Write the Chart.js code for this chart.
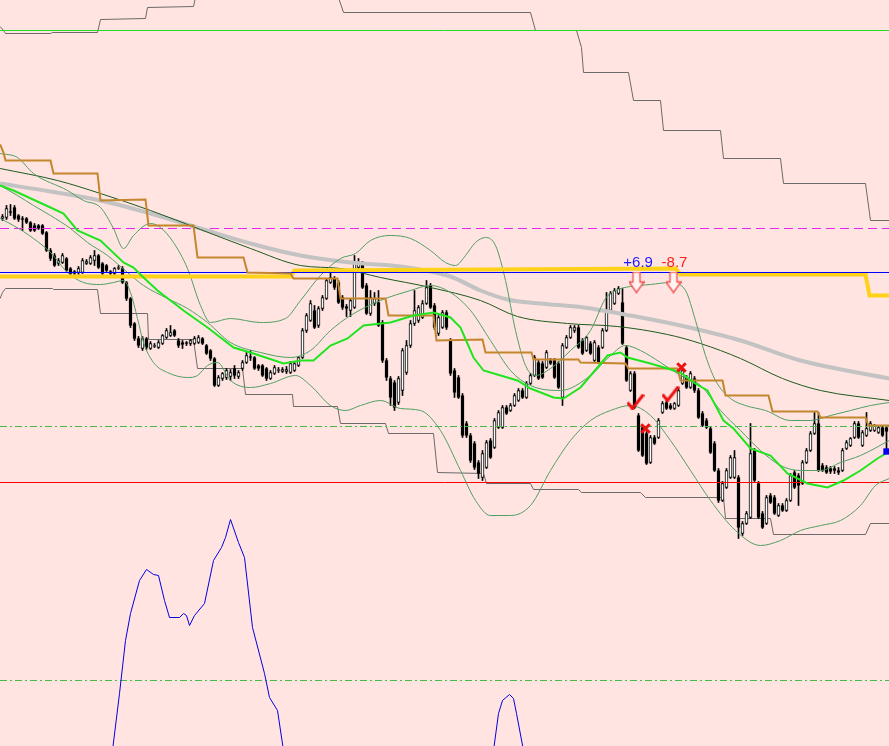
<!DOCTYPE html>
<html>
<head>
<meta charset="utf-8">
<title>Chart</title>
<style>
  html, body { margin: 0; padding: 0; background: #FFE4E1; overflow: hidden; }
  #wrap { width: 889px; height: 746px; }
  canvas { display: block; background: #FFE4E1; }
</style>
<script src="https://cdn.jsdelivr.net/npm/chart.js@4.4.0/dist/chart.umd.min.js"></script>
</head>
<body>
<div id="wrap"><canvas id="chart" width="889" height="746"></canvas></div>
<script>
// candles, one per bar (price axis runs top -> bottom)
const opens = [218,217,211,207,215,218,218,222,225,225,225,232,250,255,263,262,258,268,271,272,
  272,263,263,260,255,263,265,271,273,268,268,282,298,323,338,348,338,348,346,347,
  343,337,335,330,340,342,342,343,343,342,338,345,350,358,385,378,377,376,368,376,
  368,362,356,357,365,365,368,378,373,370,371,371,372,370,365,357,330,320,310,325,
  308,298,282,278,282,297,306,310,307,267,263,285,313,303,302,322,360,378,382,402,
  390,372,345,323,320,317,303,285,305,333,327,312,340,370,377,395,423,435,443,462,
  477,467,440,447,427,427,407,410,405,400,390,397,383,375,362,363,367,360,360,363,
  397,347,337,330,327,340,350,343,360,347,347,330,310,303,293,302,347,390,373,415,
  427,433,462,437,437,412,402,405,408,405,383,377,387,378,390,413,420,428,443,470,
  500,487,477,477,477,533,523,517,450,483,513,523,495,497,515,505,510,500,472,475,
  483,462,450,433,423,465,467,468,468,470,470,448,445,437,423,445,435,430,430,432,
  427,427];
const highs = [214,205,204,205,214,216,217,221,223,224,224,231,248,253,258,253,257,267,270,266,
  258,259,255,250,254,262,264,270,267,265,266,281,297,322,336,336,337,341,343,340,
  334,328,325,329,338,340,341,339,336,335,337,344,349,357,375,372,368,369,365,370,
  360,352,350,356,364,364,367,370,365,367,367,366,361,362,356,328,313,300,305,306,
  295,278,272,276,280,295,304,298,255,258,261,283,290,292,290,320,358,376,380,376,
  348,340,320,290,305,300,280,283,303,315,310,310,338,368,375,393,421,433,441,460,
  450,440,438,418,410,405,405,403,393,388,388,381,373,355,360,361,350,358,358,361,
  343,335,325,325,325,338,336,341,340,345,328,292,291,288,286,288,345,371,371,413,
  425,431,435,435,418,401,400,403,402,388,368,375,371,376,388,411,418,426,441,468,
  481,468,455,450,475,521,511,423,448,481,511,495,493,495,503,503,498,473,470,473,
  460,448,431,412,412,463,465,466,466,467,448,440,437,421,421,430,412,421,424,426,
  425,425];
const lows = [220,219,215,219,221,230,223,231,231,229,234,251,260,266,265,263,271,275,274,274,
  273,264,264,265,268,274,271,274,274,269,283,300,327,340,347,350,349,349,347,348,
  344,338,336,336,347,348,345,345,344,343,344,354,360,386,386,380,379,380,378,378,
  370,363,360,369,370,376,380,379,374,372,372,373,373,371,366,358,332,321,328,327,
  310,299,283,289,303,309,316,316,308,269,288,314,315,305,326,362,380,405,410,404,
  395,374,347,325,322,318,304,308,329,335,328,329,375,397,398,437,437,462,469,478,
  480,468,458,448,428,428,414,411,406,401,398,398,384,376,379,378,368,364,378,388,
  405,348,338,332,348,354,351,354,361,363,348,331,311,304,294,344,381,391,408,451,
  456,464,463,444,438,413,409,409,409,406,384,388,388,392,418,426,428,453,471,502,
  501,488,478,478,538,535,524,518,481,518,528,524,503,514,516,511,511,501,488,505,
  484,463,451,434,471,471,473,473,473,474,471,449,446,438,438,446,436,431,431,433,
  436,450];
const closes = [216,208,212,218,219,219,222,230,230,228,233,250,258,265,260,255,270,273,273,268,
  260,261,257,255,267,273,270,273,268,267,282,298,325,338,345,338,347,343,345,342,
  335,330,332,335,345,344,343,340,338,337,343,353,358,385,377,373,370,372,375,372,
  362,355,357,368,368,375,378,372,367,369,369,369,363,363,357,330,315,303,327,308,
  297,280,277,287,302,307,308,300,262,263,287,313,297,298,325,360,377,397,407,378,
  350,345,323,310,307,303,287,307,327,317,312,327,373,392,397,435,435,460,467,473,
  453,442,457,420,412,407,413,405,395,390,397,383,375,357,378,377,352,363,377,387,
  345,337,327,327,347,353,337,353,342,362,330,310,293,290,288,343,380,373,407,450,
  455,463,437,443,420,403,408,408,403,390,370,387,373,390,417,425,427,452,470,500,
  483,470,457,457,527,523,513,453,480,517,527,497,502,513,505,510,500,475,487,485,
  462,450,433,423,470,470,472,471,470,472,450,442,438,423,437,432,428,423,425,427,
  435,431];

// indicator lines as [bar, price] vertices
const slowMA = [[-0.6,183],[12,191],[24.5,200],[37,213],[49.5,228],[62,243],[74.5,255],[87,262],
  [99.5,266],[112,276],[119.5,290],[126.25,299],[134.5,303],[145.25,307],[157,315],[169.5,325],
  [184.5,340],[199.5,360],[221.7,378]];
const trendMA = [[-0.6,168],[13.75,180],[24.5,193],[37,210],[49.5,229],[62,248],[74.5,265],[84.5,268],
  [94.5,277],[107,287],[119.5,300],[128.75,316],[141.25,323],[153.75,326],[166.25,334],[174.5,343],
  [184.5,358],[195,378],[204.5,390],[221.7,400]];
const fastMA = [[-0.6,185],[2.75,190],[12,207],[15.25,213],[18.75,230],[24.5,240],[30.25,262],[32.75,267],
  [35.25,277],[38.75,290],[45.25,310],[51.25,327],[57.75,347],[62.75,353],[70.25,363],[74.5,360],
  [77.75,360],[82,345],[86.25,338],[90.25,325],[97,322],[102.75,315],[107.75,312],[112,317],
  [114.5,327],[117.75,357],[120.25,370],[128.75,380],[132,388],[137.75,397],[140.25,398],[144.5,387],
  [148.75,367],[151.25,355],[154.5,352],[156.25,357],[162,363],[169.5,372],[172.75,382],[176.25,390],
  [180.25,420],[182.75,428],[187,448],[192,455],[196.25,473],[201.25,483],[206.25,487],[210.25,480],
  [214.5,470],[218.75,458],[221.25,452],[221.7,451]];
const bandUp = [[-0.6,153],[3.75,157],[7.75,173],[16.25,190],[20.25,200],[24.5,207],[27.75,228],[30.25,248],
  [32.75,235],[37,223],[39.5,227],[42.75,242],[46.25,268],[49.5,305],[52,322],[57,318],[64.5,322],
  [70.75,318],[74.5,300],[79.5,275],[84.5,258],[88.25,253],[92,240],[97,235],[102,238],[107,250],
  [110.75,262],[113.25,265],[115.75,255],[118.25,242],[120.75,237],[123.25,245],[125.75,280],[128.25,330],
  [130.75,365],[133.25,375],[137,368],[142,350],[147,330],[150.75,298],[153.25,290],[157,286],
  [162,284],[167,282],[170.75,290],[173.25,320],[175.75,355],[178.25,380],[182,398],[185.75,405],
  [190.75,410],[197,420],[202,420],[207,415],[212,410],[217,405],[221.7,402]];
const bandMid = [[-0.6,185],[3.75,195],[7.75,205],[12,215],[17,228],[21.25,242],[26.25,255],[31.25,272],
  [35.25,285],[41.25,298],[46.25,308],[51.25,322],[57,342],[64.5,352],[72,357],[77,350],[82,330],
  [87,315],[94.5,300],[102,290],[107,285],[112,292],[117,310],[122,340],[127,370],[132,385],
  [139.5,390],[147,375],[152,355],[155.75,345],[159.5,350],[164.5,362],[169.5,375],[174.5,385],
  [179.5,410],[184.5,430],[189.5,450],[194.5,465],[199.5,470],[204.5,470],[209.5,462],[214.5,455],
  [221.7,440]];
const bandLow = [[-0.6,218],[2.75,225],[7.75,238],[12,252],[16.25,272],[20.25,282],[24.5,284],[27.75,282],
  [30.25,280],[32,292],[33.75,318],[35.25,342],[37.75,362],[41.25,372],[46.25,377],[48.75,375],
  [51.25,365],[53.75,362],[57,380],[62,387],[67,383],[73.25,375],[77,385],[82,405],[85.75,410],
  [89.5,405],[94.5,400],[99.5,408],[104.5,410],[109.5,430],[114.5,470],[118.25,500],[122,515],
  [127,515],[132,505],[137,470],[142,440],[147,420],[152,410],[157,405],[162,415],[167,440],
  [172,470],[177,500],[183.25,530],[189.5,545],[194.5,540],[199.5,530],[204.5,525],[209.5,520],
  [214.5,505],[218.25,485],[221.7,478]];
const stepMid = [[-0.6,144],[0.25,152],[0.75,160],[12,160],[12.75,173],[23.75,173],[24.5,200],[35.75,199],
  [36.5,225],[47.75,225],[48.75,257],[60.25,257],[61.25,272],[72,273],[72.75,278],[83.75,278],
  [84.5,298],[95.75,298],[96.5,315],[107.75,315],[108.5,340],[120,339],[120.75,352],[132.25,352],
  [132.75,359],[144,359],[144.5,362],[155.75,363],[156.5,368],[168.75,368],[169.5,380],[180,380],
  [180.75,395],[191.5,395],[192.5,411],[203.75,411],[204.5,417],[215.75,417],[216.5,425],[221.7,425]];
const stepHighA = [[-0.6,26],[0.25,30],[0.75,33],[12,33],[12.5,32],[23.75,32],[24.5,19],[35.75,18],
  [36.25,7],[47.75,6],[48.25,-3]];
const stepHighB = [[84,-3],[85.25,12],[132,12],[133.25,30],[143.5,30],[144.75,47],[145.25,72],[156.5,72],
  [157.75,100],[164.5,100],[165.25,130],[179.5,130],[180.25,158],[194.5,158],[195.25,183],[215.75,183],
  [217,220],[221.7,220]];
const stepLow = [[-0.6,298],[0,292],[0.75,288],[12.5,288],[12.75,289],[23.75,289],[24.5,313],[36.25,313],
  [36.5,339],[47.75,339],[48.75,368],[60,368],[60.75,394],[72.5,394],[72.75,406],[83.75,406],
  [84.5,423],[95.75,423],[96.5,433],[107.75,433],[108.75,472],[120.25,473],[121,483],[132,483],
  [132.75,489],[144,489],[144.75,492],[159.5,492],[160.75,497],[180.25,497],[180.75,518],[192,518],
  [192.75,534],[215.75,534],[217,523],[221.7,523]];
const goldLine = [[-0.6,276],[72,276],[73,270],[168.25,268],[169.5,274],[215.75,274],[216.75,295],[221.7,295]];
const oscA = [[27.5,750],[29.25,693],[30.75,640],[32,613],[34.25,580],[36,569],[37.75,574],[39,575],
  [40.5,600],[41.75,617],[44.25,617],[45.25,613],[46,615],[46.75,625],[48,615],[50.5,603],
  [52.75,560],[54.75,547],[55.75,537],[57,519],[59,542],[60.5,557],[62.5,627],[65.5,673],
  [66.75,697],[68.75,710],[70.25,750]];
const oscB = [[122.75,750],[124,713],[125,700],[126.75,694],[127.75,698],[128.5,713],[130.25,750]];

// horizontal levels
const levelTop = 30;
const levelMagenta = 228;
const levelBlue = 272;
const levelDashDot = [426, 680];
const levelRed = 482;

// signal marks
const arrowMarks = [[158.5,282],[167.75,282]];
const checkMarks = [[158.25,401],[167,393]];
const crossMarks = [[169.75,367],[160.75,428]];
const priceMark = [[221,451]];
const tradeLabels = [
  { x: 158.9, y: 262, text: "+6.9", color: "#1a1aff" },
  { x: 168, y: 262, text: "-8.7", color: "#ff2020" }
];

// one bar every 4 px; half-pixel offsets keep 1px lines crisp
const X_MIN = -0.625, X_MAX = 221.625;
const Y_MIN = -0.5, Y_MAX = 745.5;

function pts(list) {
  return list.map(p => ({ x: p[0], y: p[1] }));
}
function level(v) {
  return [{ x: X_MIN, y: v }, { x: X_MAX, y: v }];
}
function line(data, color, width, order, extra) {
  return Object.assign({
    type: "line", data: pts(data), borderColor: color, borderWidth: width,
    pointRadius: 0, tension: 0, fill: false, order: order
  }, extra || {});
}

// small canvases used as point styles
function makeArrow() {
  const c = document.createElement("canvas");
  c.width = 16; c.height = 22;
  const g = c.getContext("2d");
  g.beginPath();
  g.moveTo(4.5, 0.5); g.lineTo(11.5, 0.5); g.lineTo(11.5, 10.5); g.lineTo(15.5, 10.5);
  g.lineTo(8, 21); g.lineTo(0.5, 10.5); g.lineTo(4.5, 10.5); g.closePath();
  g.fillStyle = "#fff4f2"; g.fill();
  g.strokeStyle = "#f04a4a"; g.lineWidth = 1.3; g.stroke();
  return c;
}
function makeCheck() {
  const c = document.createElement("canvas");
  c.width = 18; c.height = 16;
  const g = c.getContext("2d");
  g.beginPath();
  g.moveTo(1, 9); g.lineTo(6, 15); g.lineTo(17, 1);
  g.strokeStyle = "#ee1111"; g.lineWidth = 3; g.lineJoin = "miter"; g.stroke();
  return c;
}

const candleBodies = opens.map((o, i) => ({ x: i, y: [o, closes[i]] }));
const candleWicks = opens.map((o, i) => ({ x: i, y: [lows[i], highs[i]] }));
const bodyFill = opens.map((o, i) => (closes[i] > o ? "#000000" : "#ffffff"));

// text labels drawn at scale positions
const labelPlugin = {
  id: "tradeLabels",
  afterDatasetsDraw(chart) {
    const ctx = chart.ctx;
    const xs = chart.scales.x, ys = chart.scales.y;
    ctx.save();
    ctx.font = "15px 'Liberation Sans', Arial, sans-serif";
    ctx.textAlign = "center";
    ctx.textBaseline = "middle";
    tradeLabels.forEach(l => {
      ctx.fillStyle = l.color;
      ctx.fillText(l.text, xs.getPixelForValue(l.x), ys.getPixelForValue(l.y));
    });
    ctx.restore();
  }
};

const datasets = [
  // markers on top
  { type: "scatter", data: pts(priceMark), pointStyle: "rect", pointRadius: 4.5, rotation: 0,
    backgroundColor: "#0000ff", borderColor: "#0000ff", borderWidth: 0, order: 1 },
  { type: "scatter", data: pts(crossMarks), pointStyle: "crossRot", pointRadius: 6,
    borderColor: "#ee1111", borderWidth: 3, order: 1 },
  { type: "scatter", data: pts(checkMarks), pointStyle: makeCheck(), order: 1 },
  { type: "scatter", data: pts(arrowMarks), pointStyle: makeArrow(), order: 1 },
  // indicator lines
  line(fastMA, "#1fe51f", 2, 2),
  line(stepMid, "#c4862c", 2, 3),
  line([[X_MIN, levelBlue], [X_MAX, levelBlue]], "#0000ff", 1, 4),
  line(goldLine, "#ffd21a", 4, 5),
  line(bandUp, "#4f9f62", 1, 6, { cubicInterpolationMode: "monotone" }),
  line(bandMid, "#4f9f62", 1, 6, { cubicInterpolationMode: "monotone" }),
  line(bandLow, "#4f9f62", 1, 6, { cubicInterpolationMode: "monotone" }),
  line(trendMA, "#1d5a1d", 1, 7, { cubicInterpolationMode: "monotone" }),
  line(slowMA, "#c3c3c3", 4, 8, { cubicInterpolationMode: "monotone" }),
  line(oscA, "#0000e6", 1, 8),
  line(oscB, "#0000e6", 1, 8),
  // horizontal levels over the price bars
  { type: "line", data: level(levelTop), borderColor: "#22dd22", borderWidth: 1, pointRadius: 0, order: 8.5 },
  { type: "line", data: level(levelMagenta), borderColor: "#ee22ee", borderWidth: 1, borderDash: [9, 5], pointRadius: 0, order: 8.5 },
  { type: "line", data: level(levelRed), borderColor: "#ff0000", borderWidth: 1, pointRadius: 0, order: 8.5 },
  { type: "line", data: level(levelDashDot[0]), borderColor: "#44bb44", borderWidth: 1, borderDash: [7, 3, 2, 3], pointRadius: 0, order: 8.5 },
  { type: "line", data: level(levelDashDot[1]), borderColor: "#44bb44", borderWidth: 1, borderDash: [7, 3, 2, 3], pointRadius: 0, order: 8.5 },
  // candles
  { type: "bar", data: candleBodies, backgroundColor: bodyFill, borderColor: "#000000",
    borderWidth: 1, borderSkipped: false, barThickness: 3, grouped: false, order: 9 },
  { type: "bar", data: candleWicks, backgroundColor: "#000000", borderWidth: 0,
    barThickness: 1, grouped: false, order: 10 },
  // channel steps underneath
  line(stepHighA, "#6a6a6a", 1, 11),
  line(stepHighB, "#6a6a6a", 1, 11),
  line(stepLow, "#6a6a6a", 1, 11)
];

new Chart(document.getElementById("chart"), {
  type: "line",
  data: { datasets: datasets },
  options: {
    responsive: false,
    animation: false,
    devicePixelRatio: 1,
    layout: { padding: 0, autoPadding: false },
    plugins: { legend: { display: false }, tooltip: { enabled: false } },
    scales: {
      x: { type: "linear", min: X_MIN, max: X_MAX, offset: false, display: false },
      y: { type: "linear", min: Y_MIN, max: Y_MAX, reverse: true, display: false }
    }
  },
  plugins: [labelPlugin]
});
</script>
</body>
</html>
